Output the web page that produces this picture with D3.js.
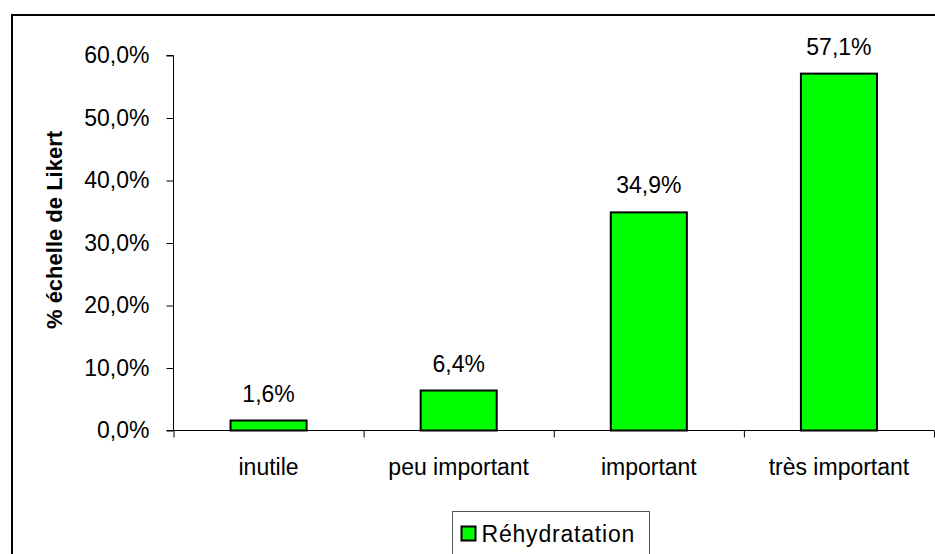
<!DOCTYPE html>
<html>
<head>
<meta charset="utf-8">
<script src="https://cdn.jsdelivr.net/npm/d3@7"></script>
<style>
  html, body { margin: 0; padding: 0; background: #fff; }
  svg { display: block; }
  text { font-family: Arial, "Liberation Sans", sans-serif; fill: #000; }
</style>
</head>
<body>
<div id="app"></div>
<script>
// data
const categories = ["inutile", "peu important", "important", "très important"];
const values = [1.6, 6.4, 34.9, 57.1];
const yTicks = [0, 10, 20, 30, 40, 50, 60];
const seriesName = "Réhydratation";
const yTitle = "% échelle de Likert";

const width = 935;
const height = 554;
const fs = 23;

const svg = d3.select("#app")
  .append("svg")
  .attr("width", width)
  .attr("height", height)
  .attr("viewBox", `0 0 ${width} ${height}`);

// outer frame (right and bottom edge fall outside the picture)
svg.append("rect")
  .attr("x", 12).attr("y", 15)
  .attr("width", 940).attr("height", 560)
  .attr("fill", "#fff")
  .attr("stroke", "#000")
  .attr("stroke-width", 2);

const plotLeft = 173.5, plotRight = 934, plotTop = 55.5, plotBottom = 430.5;

const x = d3.scaleBand().domain(categories).range([plotLeft, plotRight]).paddingInner(0).paddingOuter(0);
const xEdge = d3.scaleLinear().domain([0, categories.length]).range([plotLeft, plotRight]);
const y = d3.scaleLinear().domain([0, 60]).range([plotBottom, plotTop]);

const pct = v => d3.format(".1f")(v).replace(".", ",") + "%";

// y axis
const yAxis = svg.append("g")
  .attr("transform", `translate(${plotLeft},0)`)
  .call(d3.axisLeft(y).tickValues(yTicks).tickSize(7).tickPadding(17).tickFormat(pct));
yAxis.select(".domain").attr("stroke", "#000").attr("d", `M-7,${plotTop}H0V${plotBottom}`);
yAxis.selectAll("line").attr("stroke", "#000");
yAxis.selectAll("text").attr("font-size", fs).attr("font-family", "Arial, 'Liberation Sans', sans-serif").attr("fill", "#000");

// x axis: ticks on category boundaries
const xAxis = svg.append("g")
  .attr("transform", `translate(0,${plotBottom})`)
  .call(d3.axisBottom(xEdge).tickValues(d3.range(categories.length + 1)).tickSize(7).tickFormat(""));
xAxis.select(".domain").attr("stroke", "#000").attr("d", `M${plotLeft - 7},0H${plotRight}`);
xAxis.selectAll("line").attr("stroke", "#000");

// category labels
svg.append("g").selectAll("text")
  .data(categories)
  .join("text")
  .attr("x", d => x(d) + x.bandwidth() / 2)
  .attr("y", plotBottom + 44)
  .attr("text-anchor", "middle")
  .attr("font-size", fs)
  .text(d => d);

// bars
const barW = x.bandwidth() * 0.4;
svg.append("g").selectAll("rect")
  .data(values)
  .join("rect")
  .attr("x", (d, i) => x(categories[i]) + (x.bandwidth() - barW) / 2)
  .attr("y", d => y(d))
  .attr("width", barW)
  .attr("height", d => plotBottom - y(d))
  .attr("fill", "#00ff00")
  .attr("stroke", "#000")
  .attr("stroke-width", 2);

// value labels
svg.append("g").selectAll("text")
  .data(values)
  .join("text")
  .attr("x", (d, i) => x(categories[i]) + x.bandwidth() / 2)
  .attr("y", d => y(d) - 19)
  .attr("text-anchor", "middle")
  .attr("font-size", fs)
  .text(d => pct(d));

// y title
svg.append("text")
  .attr("transform", `translate(62,230) rotate(-90)`)
  .attr("text-anchor", "middle")
  .attr("font-size", 22)
  .attr("font-weight", "bold")
  .text(yTitle);

// legend
const legend = svg.append("g").attr("transform", "translate(452.5,511.5)");
legend.append("rect")
  .attr("width", 197).attr("height", 60)
  .attr("fill", "#fff")
  .attr("stroke", "#555")
  .attr("stroke-width", 1);
legend.append("rect")
  .attr("x", 9).attr("y", 15)
  .attr("width", 14).attr("height", 14)
  .attr("fill", "#00ff00")
  .attr("stroke", "#000")
  .attr("stroke-width", 2);
legend.append("text")
  .attr("x", 29).attr("y", 30)
  .attr("font-size", fs)
  .attr("letter-spacing", 0.8)
  .text(seriesName);
</script>
</body>
</html>
